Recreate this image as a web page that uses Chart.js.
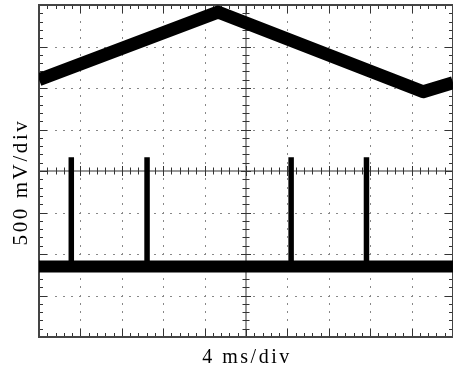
<!DOCTYPE html>
<html><head><meta charset="utf-8">
<script src="https://cdn.jsdelivr.net/npm/chart.js@4"></script>
<style>html,body{margin:0;padding:0;background:#fff}canvas{display:block}</style>
</head><body>
<canvas id="c" width="453" height="370"></canvas>
<script>
// Values in screen divisions (time div 0..10, voltage div -4..4)
const triangleTime = [0, 4.32, 9.28, 10];
const triangleVolts = [2.2, 3.83, 1.91, 2.13];
const baselineTime = [0, 10];
const baselineVolts = [-2.3, -2.3];
const pulseTime = [0.78, 2.61, 6.09, 7.91];
const pulseTop = 0.33;
const xTitle = '4 ms/div';
const yTitle = '500 mV/div';

const triData = triangleTime.map((t, i) => ({x: t, y: triangleVolts[i]}));
const baseData = baselineTime.map((t, i) => ({x: t, y: baselineVolts[i]}));
const pulseData = [];
pulseTime.forEach(t => {
  pulseData.push({x: t, y: baselineVolts[0]}, {x: t, y: pulseTop}, {x: t, y: null});
});

const scopePlugin = {
  id: 'scope',
  beforeDatasetsDraw(chart) {
    const {ctx, chartArea: {left, right, top, bottom}, scales: {x, y}} = chart;
    ctx.save();
    // dotted graticule
    ctx.fillStyle = '#888';
    for (let i = 1; i < 10; i++) {
      if (i === 5) continue;
      const X = Math.round(x.getPixelForValue(i));
      for (let k = 1; k < 40; k++) {
        const Y = Math.round(y.getPixelForValue(-4 + k * 0.2));
        ctx.fillRect(X, Y - 1, 1, 2);
      }
    }
    for (let j = -3; j <= 3; j++) {
      if (j === 0) continue;
      const Y = Math.round(y.getPixelForValue(j));
      for (let k = 1; k < 50; k++) {
        const X = Math.round(x.getPixelForValue(k * 0.2));
        ctx.fillRect(X - 1, Y, 2, 1);
      }
    }
    // center cross
    const cx = x.getPixelForValue(5), cy = y.getPixelForValue(0);
    ctx.strokeStyle = '#777';
    ctx.lineWidth = 1.5;
    ctx.beginPath();
    ctx.moveTo(cx, top); ctx.lineTo(cx, bottom);
    ctx.moveTo(left, cy); ctx.lineTo(right, cy);
    ctx.stroke();
    ctx.strokeStyle = '#333';
    ctx.lineWidth = 1;
    ctx.beginPath();
    for (let k = 1; k < 40; k++) {
      const v = -4 + k * 0.2;
      const Y = Math.round(y.getPixelForValue(v)) + 0.5;
      const L = (k % 5 === 0) ? 5 : 3.5;
      ctx.moveTo(cx - L, Y); ctx.lineTo(cx + L, Y);
      const B = (k % 5 === 0) ? 8 : 4;
      ctx.moveTo(left, Y); ctx.lineTo(left + B, Y);
      ctx.moveTo(right, Y); ctx.lineTo(right - B, Y);
    }
    for (let k = 1; k < 50; k++) {
      const X = Math.round(x.getPixelForValue(k * 0.2)) + 0.5;
      const L = (k % 5 === 0) ? 5 : 3.5;
      ctx.moveTo(X, cy - L); ctx.lineTo(X, cy + L);
      const B = (k % 5 === 0) ? 8 : 4;
      ctx.moveTo(X, top); ctx.lineTo(X, top + B);
      ctx.moveTo(X, bottom); ctx.lineTo(X, bottom - B);
    }
    ctx.stroke();
    // border
    ctx.strokeStyle = '#444';
    ctx.lineWidth = 2;
    ctx.strokeRect(left, top, right - left, bottom - top);
    ctx.restore();
  },
  afterDraw(chart) {
    const {ctx, chartArea: {left, right}} = chart;
    ctx.save();
    ctx.fillStyle = '#000';
    ctx.font = '20px "Liberation Serif", "Times New Roman", serif';
    try { ctx.letterSpacing = '2.5px'; } catch (e) {}
    ctx.textAlign = 'center';
    ctx.textBaseline = 'alphabetic';
    ctx.fillText(xTitle, (left + right) / 2 + 1, 363);
    ctx.font = '21px "Liberation Serif", "Times New Roman", serif';
    try { ctx.letterSpacing = '2.6px'; } catch (e) {}
    ctx.translate(27, 182);
    ctx.rotate(-Math.PI / 2);
    ctx.fillText(yTitle, 0, 0);
    ctx.restore();
  }
};

new Chart(document.getElementById('c'), {
  type: 'line',
  data: {
    datasets: [
      {data: triData, borderColor: '#000', borderWidth: 13, pointRadius: 0, borderJoinStyle: 'round', tension: 0},
      {data: baseData, borderColor: '#000', borderWidth: 12, pointRadius: 0, tension: 0},
      {data: pulseData, borderColor: '#000', borderWidth: 5.5, pointRadius: 0, spanGaps: false, borderCapStyle: 'butt', tension: 0}
    ]
  },
  options: {
    responsive: false,
    animation: false,
    devicePixelRatio: 1,
    layout: {padding: {left: 39, top: 5, right: 0, bottom: 33}},
    plugins: {legend: {display: false}, tooltip: {enabled: false}},
    scales: {
      x: {type: 'linear', min: 0, max: 10, display: false},
      y: {type: 'linear', min: -4, max: 4, display: false}
    }
  },
  plugins: [scopePlugin]
});
</script>
</body></html>
